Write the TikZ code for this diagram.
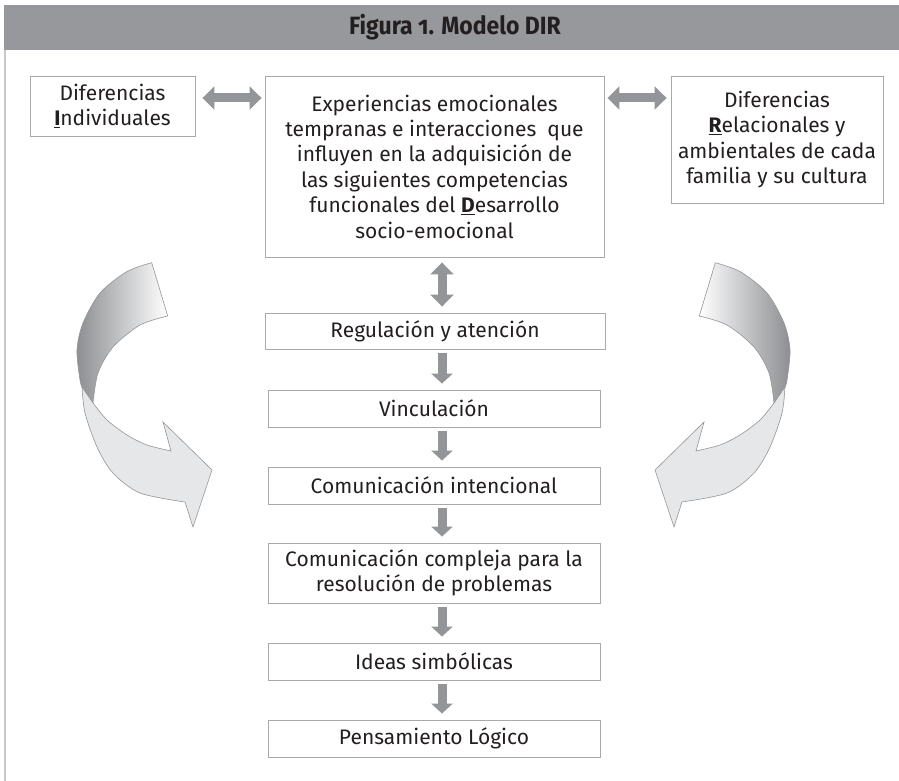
\documentclass[tikz,border=0pt]{standalone}
\usepackage{fontspec}
\setmainfont{Fira Sans}
\newfontfamily\headfont[Numbers=OldStyle, FakeStretch=0.92]{Fira Sans}
\usetikzlibrary{arrows.meta}
\definecolor{headgray}{HTML}{97989B}
\definecolor{txt}{HTML}{231F20}
\definecolor{boxgray}{HTML}{A7A9AC}
\definecolor{arrgray}{HTML}{939598}
\definecolor{lightfill}{HTML}{E6E7E8}
\definecolor{darkshade}{HTML}{8C8E91}
\definecolor{edgegray}{HTML}{939598}
\definecolor{bordergray}{HTML}{C7C8CA}
\def\dirarrow#1#2{%
  \path[draw=edgegray, line width=0.6pt, left color=#1, right color=#2]
    plot[smooth] coordinates {(151.7,262.7) (126.7,271.7) (100,293) (83,323) (77,350) (80,380) (82,387)}
    -- plot[smooth] coordinates {(93,403) (98,373) (113,347) (140,325) (167.7,316)} -- cycle;
  \path[draw=edgegray, line width=0.6pt, fill=lightfill]
    plot[smooth] coordinates {(82,387) (85,413) (97,447) (113,473) (140,493) (185,502)}
    -- (193,527) -- (212,470) -- (163,422)
    -- plot[smooth] coordinates {(171,451) (147,445) (127,435) (107,420) (93,403)} -- cycle;
}
\begin{document}
\begin{tikzpicture}[x=1pt,y=-1pt,
  box/.style={draw=boxgray, line width=0.9pt, fill=white, align=center, inner sep=0pt,
    text=txt, font=\fontsize{21}{25.4}\selectfont},
  blk/.style={draw=arrgray, line width=9pt},
  sarrow/.style={blk, -{Triangle[width=21pt,length=10pt]}},
  darrow/.style={blk, {Triangle[width=23pt,length=12pt]}-{Triangle[width=23pt,length=12pt]}}]
\useasboundingbox[fill=white] (0,0) rectangle (899,781);
% header
\fill[headgray] (4,5) rectangle (899,50);
\node[text=txt, font=\headfont\bfseries\fontsize{25}{28}\selectfont] (title) at (455,27.5) {Figura 1. Modelo DIR};
\draw[bordergray, line width=2pt] (5,50) -- (5,781);
% curved arrows
\dirarrow{darkshade}{white}
\begin{scope}[xshift=867pt, xscale=-1]
\dirarrow{white}{darkshade}
\end{scope}
% boxes
\node[box, minimum width=165pt, minimum height=60pt] (L) at (112.5,106)
  {Diferencias\\\textbf{\underline{I}}ndividuales};
\node[box, minimum width=339pt, minimum height=181pt] (C) at (434.5,166.5)
  {Experiencias emocionales\\tempranas e interacciones\ \ que\\influyen en la adquisición de\\las siguientes competencias\\funcionales del \textbf{\underline{D}}esarrollo\\socio-emocional};
\node[box, minimum width=212pt, minimum height=127pt] (R) at (777,139.5)
  {Diferencias\\\textbf{\underline{R}}elacionales y\\ambientales de cada\\familia y su cultura};
\node[box, minimum width=340pt, minimum height=36pt] (reg) at (435,331) {Regulación y atención};
\node[box, minimum width=332pt, minimum height=37pt] (vin) at (434,408.5) {Vinculación};
\node[box, minimum width=332pt, minimum height=37pt] (ci) at (434,485.5) {Comunicación intencional};
\node[box, minimum width=332pt, minimum height=60pt] (cc) at (434,573) {Comunicación compleja para la\\resolución de problemas};
\node[box, minimum width=332pt, minimum height=37pt] (ide) at (434,661.5) {Ideas simbólicas};
\node[box, minimum width=332pt, minimum height=37pt] (pen) at (434,738.5) {Pensamiento Lógico};
% connectors
\coordinate (ax) at (442,0);
\coordinate (hy) at (0,98);
\draw[darrow, shorten <=7pt, shorten >=3pt] (L.east |- hy) -- (C.west |- hy);
\draw[darrow, shorten <=3pt, shorten >=4pt] (C.east |- hy) -- (R.west |- hy);
\draw[darrow, shorten <=5pt, shorten >=6pt] (C.south -| ax) -- (reg.north -| ax);
\draw[sarrow, shorten <=4pt, shorten >=6pt] (reg.south -| ax) -- (vin.north -| ax);
\draw[sarrow, shorten <=4pt, shorten >=6pt] (vin.south -| ax) -- (ci.north -| ax);
\draw[sarrow, shorten <=4pt, shorten >=6pt] (ci.south -| ax) -- (cc.north -| ax);
\draw[sarrow, shorten <=4pt, shorten >=6pt] (cc.south -| ax) -- (ide.north -| ax);
\draw[sarrow, shorten <=4pt, shorten >=6pt] (ide.south -| ax) -- (pen.north -| ax);
\end{tikzpicture}
\end{document}
